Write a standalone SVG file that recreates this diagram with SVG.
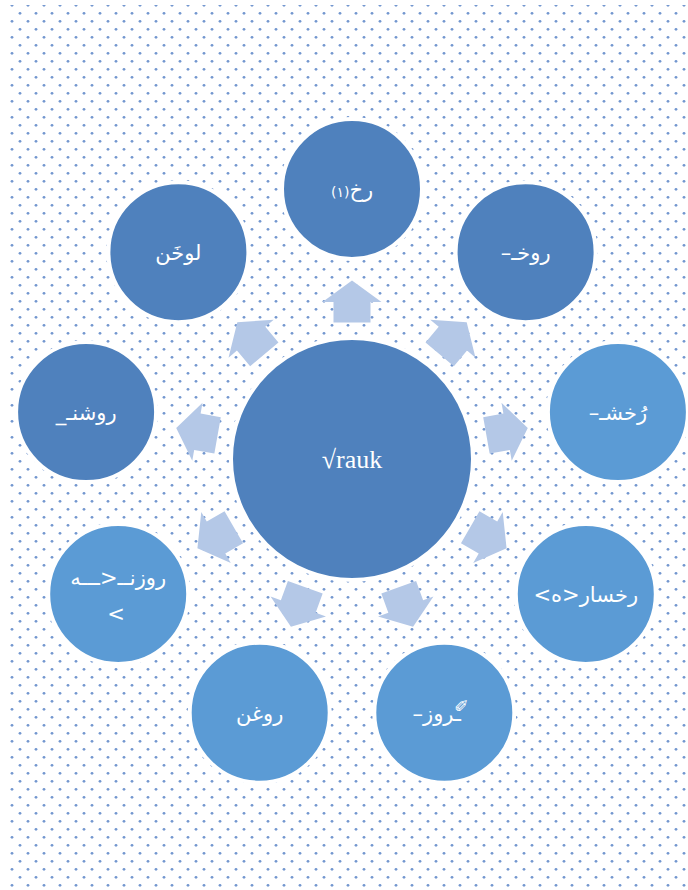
<svg xmlns="http://www.w3.org/2000/svg" width="688" height="890" viewBox="0 0 688 890">
  <defs>
    <pattern id="dots" x="0" y="0" width="16" height="16" patternUnits="userSpaceOnUse">
      <circle cx="4" cy="13.3" r="1.4" fill="#7397cf"/>
      <circle cx="12" cy="5.3" r="1.4" fill="#7397cf"/>
    </pattern>
    <path id="arrow" d="M0,-21 L29.5,0.5 L18.5,0.5 L18.5,21 L-18.5,21 L-18.5,0.5 L-29.5,0.5 Z"/>
    <style>
      .dark { fill: #4f81bd; stroke: #ffffff; stroke-width: 4; }
      .light { fill: #5b9bd5; stroke: #ffffff; stroke-width: 4; }
      .arr { fill: #b4c8e7; }
      .lbl { font-family: "DejaVu Sans", sans-serif; font-size: 21px; fill: #ffffff; text-anchor: middle; direction: rtl; }
      .ctr { font-family: "Liberation Serif", serif; font-size: 26px; fill: #ffffff; text-anchor: middle; }
    </style>
  </defs>
  <rect width="688" height="890" fill="#ffffff"/>
  <rect x="8" y="5" width="680" height="885" fill="url(#dots)"/>

  <g id="connectors">
    <use href="#arrow" class="arr" transform="translate(352,301.5) rotate(0)"/>
    <use href="#arrow" class="arr" transform="translate(453.2,338.3) rotate(40)"/>
    <use href="#arrow" class="arr" transform="translate(507.1,431.7) rotate(80)"/>
    <use href="#arrow" class="arr" transform="translate(488.4,537.8) rotate(120)"/>
    <use href="#arrow" class="arr" transform="translate(405.9,607) rotate(160)"/>
    <use href="#arrow" class="arr" transform="translate(298.1,607) rotate(200)"/>
    <use href="#arrow" class="arr" transform="translate(215.6,537.8) rotate(240)"/>
    <use href="#arrow" class="arr" transform="translate(196.9,431.7) rotate(280)"/>
    <use href="#arrow" class="arr" transform="translate(250.8,338.3) rotate(320)"/>
  </g>

  <g id="center">
    <circle class="dark" cx="352" cy="459" r="121"/>
    <text class="ctr" x="352" y="468">√rauk</text>
  </g>
  <g id="n-top">
    <circle class="dark" cx="352" cy="189" r="70"/>
    <text class="lbl" x="352" y="197">رخ<tspan font-size="14">(۱)</tspan></text>
  </g>
  <g id="n-topright">
    <circle class="dark" cx="525.6" cy="252.2" r="70"/>
    <text class="lbl" x="525.6" y="260">روخـ–</text>
  </g>
  <g id="n-right">
    <circle class="light" cx="617.9" cy="412.1" r="70"/>
    <text class="lbl" x="617.9" y="420">رُخشـ–</text>
  </g>
  <g id="n-lowerright">
    <circle class="light" cx="585.8" cy="594" r="70"/>
    <text class="lbl" x="585.8" y="602">رخسار&lt;ه&gt;</text>
  </g>
  <g id="n-bottomright">
    <circle class="light" cx="444.3" cy="712.7" r="70"/>
    <text class="lbl" x="444.3" y="721"><tspan font-size="18" dy="-6" rotate="-45">✏︎</tspan><tspan dy="6">ـروز–</tspan></text>
  </g>
  <g id="n-bottomleft">
    <circle class="light" cx="259.7" cy="712.7" r="70"/>
    <text class="lbl" x="259.7" y="721">روغن</text>
  </g>
  <g id="n-lowerleft">
    <circle class="light" cx="118.2" cy="594" r="70"/>
    <text class="lbl" x="118.2" y="585">روزنــ&lt;ـــه</text>
    <text class="lbl" x="116" y="621">&gt;</text>
  </g>
  <g id="n-left">
    <circle class="dark" cx="86.1" cy="412.1" r="70"/>
    <text class="lbl" x="86.1" y="420">روشنـ_</text>
  </g>
  <g id="n-topleft">
    <circle class="dark" cx="178.4" cy="252.2" r="70"/>
    <text class="lbl" x="178.4" y="260">لوخَن</text>
  </g>
</svg>
